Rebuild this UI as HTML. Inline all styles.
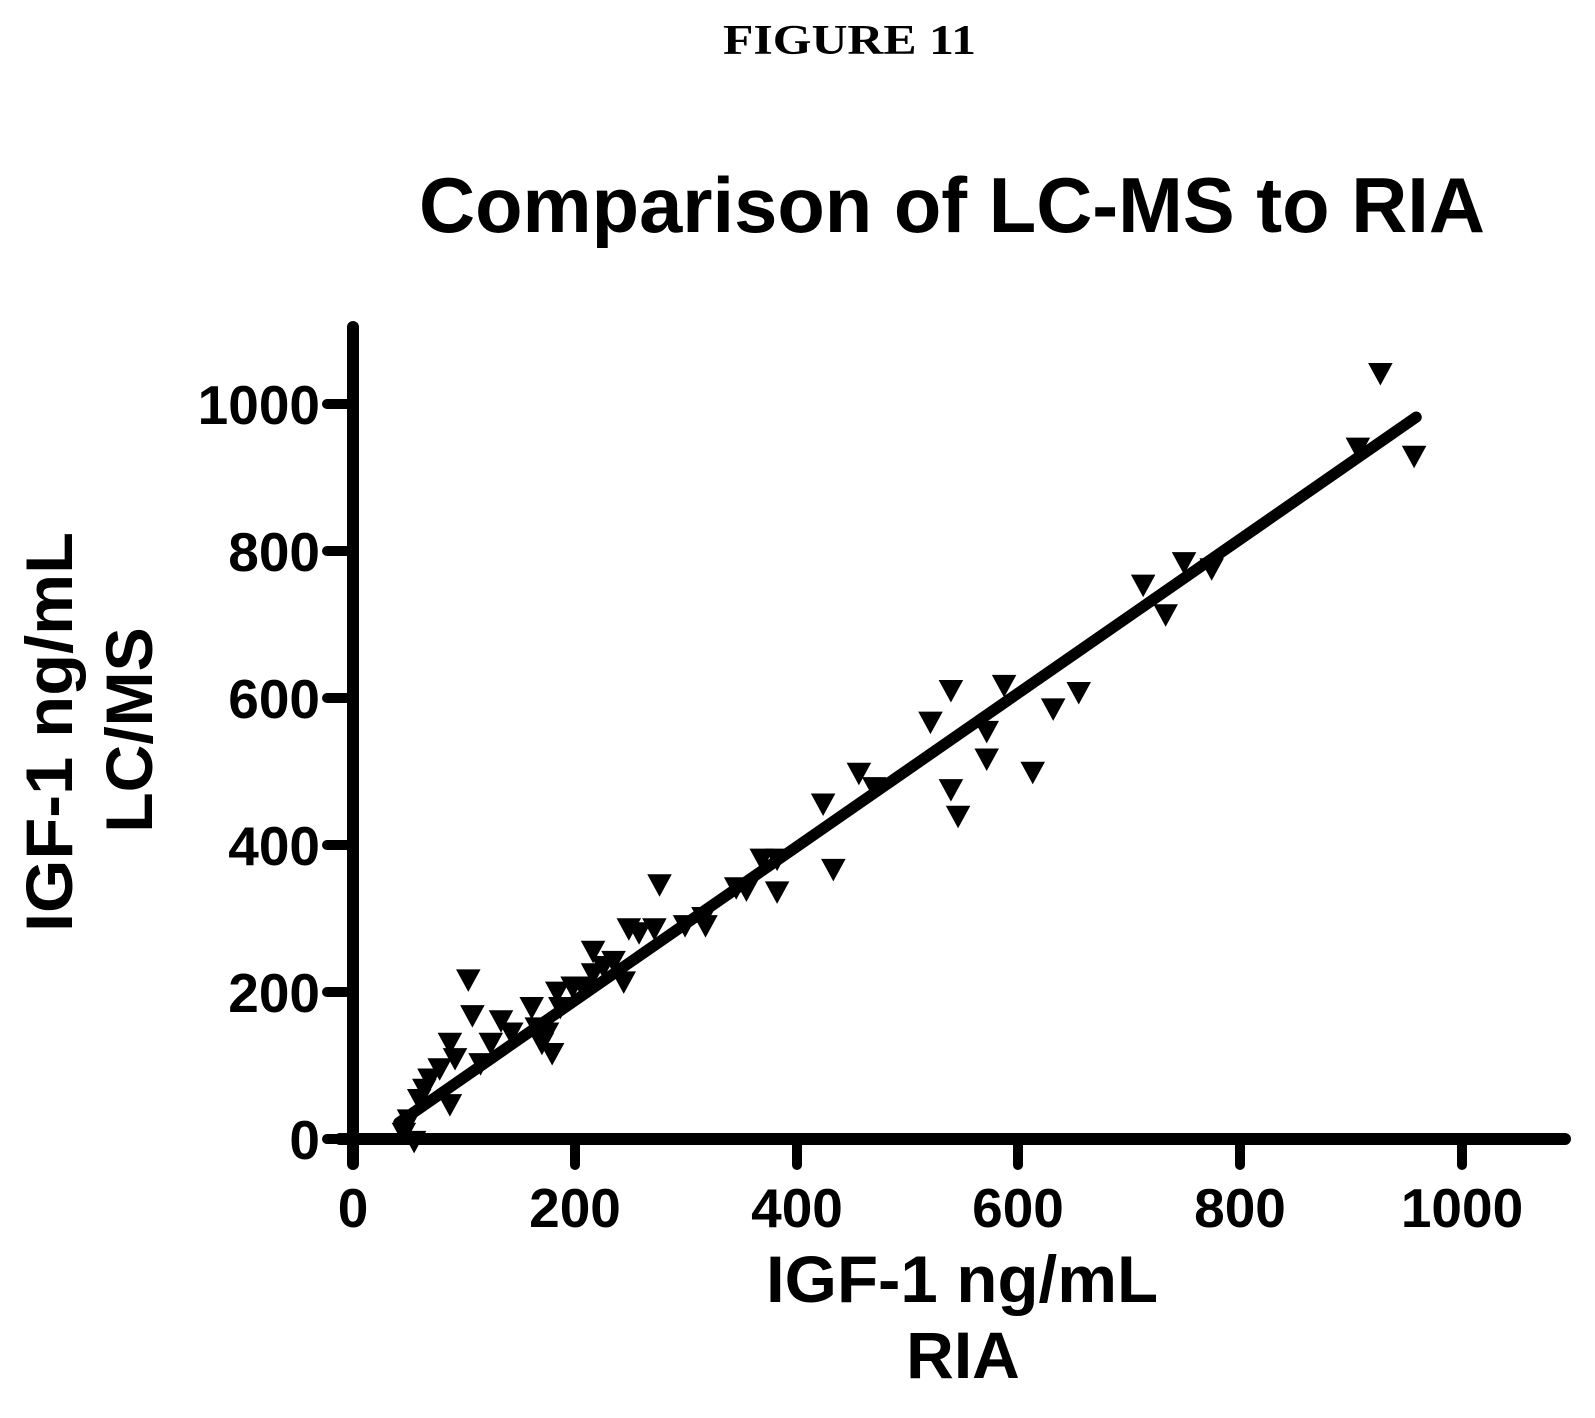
<!DOCTYPE html>
<html><head><meta charset="utf-8"><style>body{margin:0;background:#fff}svg{display:block}</style></head>
<body>
<svg width="1595" height="1418" viewBox="0 0 1595 1418" xmlns="http://www.w3.org/2000/svg">
<rect width="1595" height="1418" fill="#fff"/>
<text x="723" y="54" font-family="Liberation Serif" font-weight="bold" font-size="42" textLength="253" lengthAdjust="spacingAndGlyphs">FIGURE 11</text>
<text x="419" y="232" font-family="Liberation Sans" font-weight="bold" font-size="78" textLength="1066" lengthAdjust="spacingAndGlyphs">Comparison of LC-MS to RIA</text>
<g stroke="#000" stroke-linecap="round" fill="none">
<line x1="353" y1="327" x2="353" y2="1164" stroke-width="12"/>
<line x1="340" y1="1139" x2="1565" y2="1139" stroke-width="12"/>
<g stroke-width="10">
<line x1="327" y1="404" x2="353" y2="404"/><line x1="327" y1="551" x2="353" y2="551"/>
<line x1="327" y1="698" x2="353" y2="698"/><line x1="327" y1="845" x2="353" y2="845"/>
<line x1="327" y1="992" x2="353" y2="992"/><line x1="327" y1="1139" x2="353" y2="1139"/>
<line x1="575" y1="1139" x2="575" y2="1165"/><line x1="797" y1="1139" x2="797" y2="1165"/>
<line x1="1018" y1="1139" x2="1018" y2="1165"/><line x1="1240" y1="1139" x2="1240" y2="1165"/>
<line x1="1462" y1="1139" x2="1462" y2="1165"/>
</g>
</g>
<g font-family="Liberation Sans" font-weight="bold" font-size="55" text-anchor="end">
<text x="320" y="424">1000</text><text x="320" y="571">800</text><text x="320" y="718">600</text>
<text x="320" y="865">400</text><text x="320" y="1012">200</text><text x="320" y="1159">0</text>
</g>
<g font-family="Liberation Sans" font-weight="bold" font-size="55" text-anchor="middle">
<text x="353" y="1227">0</text><text x="575" y="1227">200</text><text x="797" y="1227">400</text>
<text x="1018" y="1227">600</text><text x="1240" y="1227">800</text><text x="1462" y="1227">1000</text>
</g>
<g font-family="Liberation Sans" font-weight="bold" font-size="66" text-anchor="middle">
<text x="962" y="1302" textLength="392" lengthAdjust="spacingAndGlyphs">IGF-1 ng/mL</text>
<text x="963" y="1378">RIA</text>
<text transform="translate(72,732) rotate(-90)" textLength="400" lengthAdjust="spacingAndGlyphs">IGF-1 ng/mL</text>
<text transform="translate(152,730) rotate(-90)">LC/MS</text>
</g>
<defs><path id="t" d="M-12,-10 L12,-10 L0,12 Z"/></defs>
<g transform="scale(1.0225)">
<line x1="390" y1="1098" x2="1385" y2="408" stroke="#000" stroke-width="11" stroke-linecap="round"/>
<g fill="#000">
<use href="#t" x="1350" y="365"/><use href="#t" x="1328" y="438"/><use href="#t" x="1383" y="446"/>
<use href="#t" x="1118" y="572"/><use href="#t" x="1140" y="601"/><use href="#t" x="1158" y="550"/><use href="#t" x="1185" y="556"/>
<use href="#t" x="910" y="706"/><use href="#t" x="930" y="675"/><use href="#t" x="982" y="670"/><use href="#t" x="965" y="715"/>
<use href="#t" x="965" y="742"/><use href="#t" x="1010" y="755"/><use href="#t" x="1030" y="693"/><use href="#t" x="1055" y="677"/>
<use href="#t" x="930" y="772"/><use href="#t" x="937" y="798"/>
<use href="#t" x="840" y="756"/><use href="#t" x="855" y="770"/><use href="#t" x="805" y="786"/><use href="#t" x="815" y="850"/>
<use href="#t" x="745" y="840"/><use href="#t" x="760" y="840"/><use href="#t" x="730" y="870"/><use href="#t" x="760" y="872"/><use href="#t" x="720" y="868"/>
<use href="#t" x="688" y="897"/><use href="#t" x="670" y="905"/><use href="#t" x="690" y="905"/>
<use href="#t" x="645" y="865"/><use href="#t" x="640" y="908"/><use href="#t" x="615" y="908"/><use href="#t" x="625" y="912"/>
<use href="#t" x="610" y="960"/><use href="#t" x="600" y="940"/><use href="#t" x="580" y="930"/><use href="#t" x="590" y="945"/>
<use href="#t" x="570" y="965"/><use href="#t" x="580" y="952"/>
<use href="#t" x="560" y="965"/><use href="#t" x="545" y="970"/><use href="#t" x="535" y="1010"/><use href="#t" x="548" y="985"/>
<use href="#t" x="520" y="985"/><use href="#t" x="525" y="1005"/><use href="#t" x="530" y="1020"/><use href="#t" x="540" y="1030"/>
<use href="#t" x="458" y="958"/><use href="#t" x="462" y="993"/><use href="#t" x="490" y="998"/><use href="#t" x="500" y="1010"/>
<use href="#t" x="480" y="1020"/><use href="#t" x="470" y="1040"/><use href="#t" x="440" y="1020"/><use href="#t" x="445" y="1035"/>
<use href="#t" x="430" y="1045"/><use href="#t" x="420" y="1055"/>
<use href="#t" x="440" y="1080"/><use href="#t" x="415" y="1065"/><use href="#t" x="410" y="1075"/><use href="#t" x="400" y="1095"/>
<use href="#t" x="395" y="1108"/><use href="#t" x="405" y="1116"/>
</g>
</g>
</svg>
</body></html>
